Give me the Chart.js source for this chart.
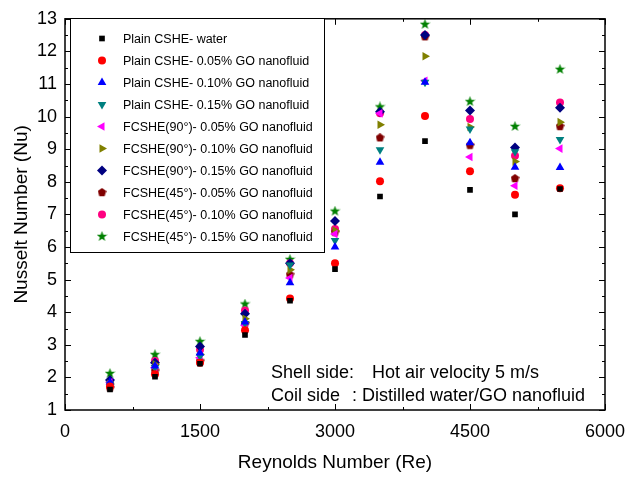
<!DOCTYPE html>
<html><head><meta charset="utf-8">
<script src="https://cdn.jsdelivr.net/npm/chart.js@4/dist/chart.umd.min.js"></script>
<style>html,body{margin:0;padding:0;background:#fff}#wrap{width:641px;height:477px}</style>
</head><body><div id="wrap"><canvas id="c" width="641" height="477"></canvas></div>
<script>
const reynolds = [500,1000,1500,2000,2500,3000,3500,4000,4500,5000,5500];
const xTicks = [0,1500,3000,4500,6000];
const yTicks = [1,2,3,4,5,6,7,8,9,10,11,12,13];
const seriesNames = [
 "Plain CSHE- water",
 "Plain CSHE- 0.05% GO nanofluid",
 "Plain CSHE- 0.10% GO nanofluid",
 "Plain CSHE- 0.15% GO nanofluid",
 "FCSHE(90°)- 0.05% GO nanofluid",
 "FCSHE(90°)- 0.10% GO nanofluid",
 "FCSHE(90°)- 0.15% GO nanofluid",
 "FCSHE(45°)- 0.05% GO nanofluid",
 "FCSHE(45°)- 0.10% GO nanofluid",
 "FCSHE(45°)- 0.15% GO nanofluid"
];
const plainWater   = [1.63,2.02,2.42,3.30,4.35,5.32,7.55,9.25,7.75,7.00,7.78];
const plain005     = [1.72,2.10,2.45,3.45,4.42,5.50,8.02,10.02,8.32,7.60,7.80];
const plain010     = [1.85,2.35,2.75,3.70,4.90,6.00,8.60,11.05,9.20,8.45,8.44];
const plain015     = [1.80,2.30,2.65,3.65,5.45,6.20,8.98,11.05,9.62,8.92,9.30];
const fc90_005     = [1.85,2.30,2.60,3.60,5.05,6.40,10.10,11.10,8.76,7.88,9.02];
const fc90_010     = [1.80,2.40,2.70,3.80,5.30,6.50,9.75,11.85,9.68,8.62,9.83];
const fc90_015     = [1.92,2.45,2.95,3.95,5.50,6.80,10.15,12.50,10.19,9.05,10.27];
const fc45_005     = [1.68,2.20,2.50,3.65,5.15,6.45,9.35,12.45,9.12,8.10,9.70];
const fc45_010     = [1.85,2.50,2.85,4.05,5.50,6.55,10.10,12.50,9.93,8.80,10.43];
const fc45_015     = [2.12,2.70,3.10,4.25,5.62,7.10,10.30,12.83,10.46,9.70,11.45];
const seriesValues = [plainWater,plain005,plain010,plain015,fc90_005,fc90_010,fc90_015,fc45_005,fc45_010,fc45_015];
const colors = ["#000000","#FF0000","#0000FF","#008080","#FF00FF","#808000","#000080","#800000","#FF0080","#008000"];

function makeShape(kind,color,size){
  const c=document.createElement('canvas');c.width=size;c.height=size;
  const g=c.getContext('2d');g.fillStyle=color;g.beginPath();
  const cx=size/2,cy=size/2;
  if(kind==='pentagon'){
    const r=size/2;
    for(let i=0;i<5;i++){const a=-Math.PI/2+i*2*Math.PI/5;const px=cx+r*Math.cos(a),py=cy+r*Math.sin(a);i?g.lineTo(px,py):g.moveTo(px,py);}
  } else {
    const R=size/2,r=R*0.42;
    for(let i=0;i<10;i++){const a=-Math.PI/2+i*Math.PI/5;const rr=i%2?r:R;const px=cx+rr*Math.cos(a),py=cy+rr*Math.sin(a);i?g.lineTo(px,py):g.moveTo(px,py);}
  }
  g.closePath();g.fill();return c;
}
const pent = makeShape('pentagon',colors[7],9);
const star = makeShape('star',colors[9],11);
const styles = [
 {s:'rect',r:4,rot:0},{s:'circle',r:4,rot:0},{s:'triangle',r:5,rot:0},{s:'triangle',r:5,rot:180},
 {s:'triangle',r:5,rot:270},{s:'triangle',r:5,rot:90},{s:'rectRot',r:5,rot:0},{s:pent,r:5,rot:0},
 {s:'circle',r:4,rot:0},{s:star,r:5,rot:0}
];
const datasets = seriesNames.map((n,i)=>({
  label:n,
  data:reynolds.map((x,j)=>({x:x,y:seriesValues[i][j]})),
  backgroundColor:colors[i],borderColor:colors[i],borderWidth:0,
  pointStyle:styles[i].s,pointRadius:styles[i].r,pointRotation:styles[i].rot,pointHoverRadius:styles[i].r
}));

const FF='"Liberation Sans", Arial, sans-serif';
const framePlugin = {
  id:'frame',
  afterDraw(chart){
    const ctx=chart.ctx,a=chart.chartArea,xs=chart.scales.x,ys=chart.scales.y;
    ctx.save();ctx.strokeStyle='#000';ctx.lineWidth=1.5;
    ctx.strokeRect(a.left,a.top,a.right-a.left,a.bottom-a.top);
    ctx.lineWidth=1;
    for(let v=0;v<=6000;v+=750){
      const px=Math.round(xs.getPixelForValue(v))+0.5;const L=(v%1500===0)?6:3;
      ctx.beginPath();ctx.moveTo(px,a.bottom);ctx.lineTo(px,a.bottom-L);ctx.moveTo(px,a.top);ctx.lineTo(px,a.top+L);ctx.stroke();
    }
    for(let v=1;v<=13;v+=0.5){
      const py=Math.round(ys.getPixelForValue(v))+0.5;const L=(v%1===0)?6:3;
      ctx.beginPath();ctx.moveTo(a.left,py);ctx.lineTo(a.left+L,py);ctx.moveTo(a.right,py);ctx.lineTo(a.right-L,py);ctx.stroke();
    }
    // legend
    const lx=70,ly=18,lw=254,lh=234;
    ctx.fillStyle='#fff';ctx.fillRect(lx,ly,lw,lh);
    ctx.strokeStyle='#000';ctx.lineWidth=1;ctx.strokeRect(lx+0.5,ly+0.5,lw,lh);
    ctx.font='12.5px '+FF;ctx.textBaseline='middle';ctx.textAlign='left';
    chart.data.datasets.forEach((d,i)=>{
      const y=38.5+i*22;
      ctx.fillStyle=d.backgroundColor;
      Chart.helpers.drawPoint(ctx,{pointStyle:d.pointStyle,radius:d.pointRadius,rotation:d.pointRotation,borderWidth:0},102,y);
      ctx.fillStyle='#000';ctx.fillText(d.label,123,y+1);
    });
    // annotation
    ctx.font='18px '+FF;ctx.fillStyle='#000';ctx.textBaseline='middle';
    ctx.fillText('Shell side:',271,373);
    ctx.fillText('Hot air velocity 5 m/s',372,373);
    ctx.fillText('Coil side',271,396);
    ctx.fillText(': Distilled water/GO nanofluid',352,396);
    ctx.restore();
  }
};

const font19={family:FF,size:19};
const font18={family:FF,size:18};
new Chart(document.getElementById('c'),{
  type:'scatter',
  data:{datasets},
  options:{
    responsive:false,animation:false,
    layout:{padding:{left:0,right:36,top:16,bottom:0}},
    plugins:{legend:{display:false},tooltip:{enabled:false}},
    scales:{
      x:{type:'linear',min:0,max:6000,
        afterBuildTicks(s){s.ticks=xTicks.map(v=>({value:v}));},
        afterFit(s){s.height=67;},
        grid:{display:false,drawTicks:false},border:{display:false},
        ticks:{color:'#000',font:font18,padding:11,maxRotation:0,callback:v=>String(v)},
        title:{display:true,text:'Reynolds Number (Re)',color:'#000',font:font19,padding:{top:4,bottom:3}}
      },
      y:{type:'linear',min:1,max:13,
        afterBuildTicks(s){s.ticks=yTicks.map(v=>({value:v}));},
        afterFit(s){s.width=65;},
        grid:{display:false,drawTicks:false},border:{display:false},
        ticks:{color:'#000',font:font18,padding:8,callback:v=>String(v)},
        title:{display:true,text:'Nusselt Number (Nu)',color:'#000',font:font19,padding:{top:10,bottom:4}}
      }
    }
  },
  plugins:[framePlugin]
});
</script></body></html>
